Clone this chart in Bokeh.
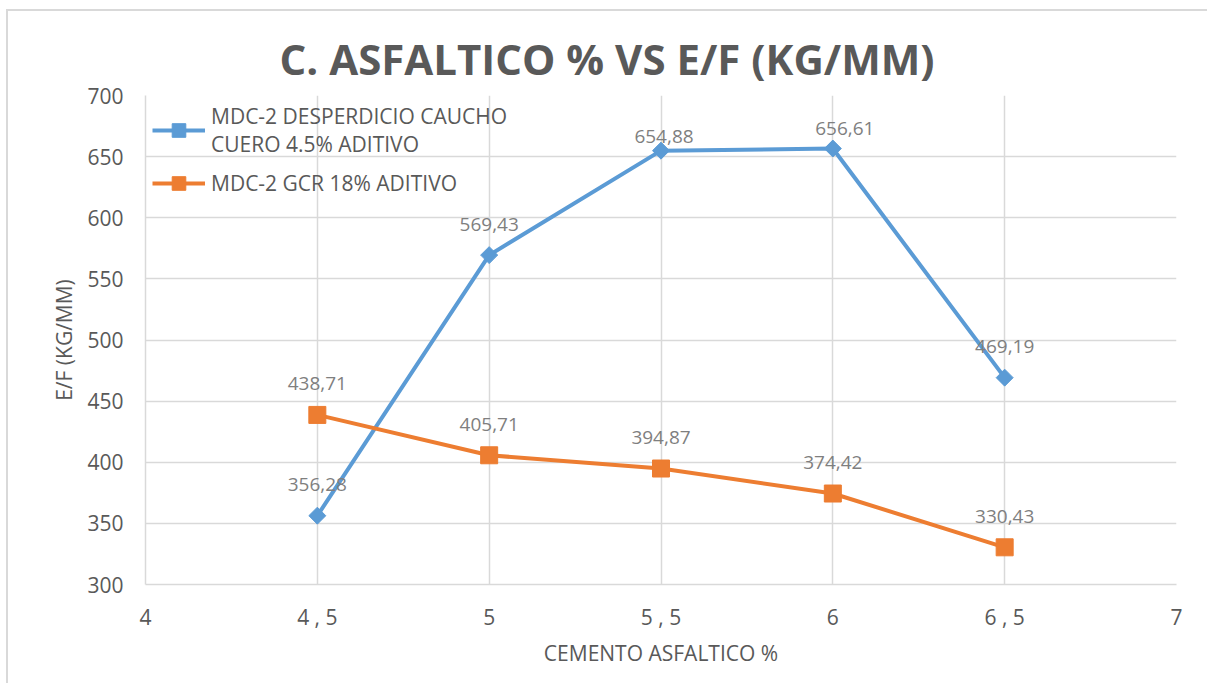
from bokeh.plotting import figure
from bokeh.models import (ColumnDataSource, Legend, LegendItem, FixedTicker,
                          Range1d)
from bokeh.embed import file_html
from bokeh.resources import INLINE

# Asphalt cement content (%) and stability/flow ratio (kg/mm)
cemento = [4.5, 5.0, 5.5, 6.0, 6.5]
caucho_cuero = [356.28, 569.43, 654.88, 656.61, 469.19]
gcr_18 = [438.71, 405.71, 394.87, 374.42, 330.43]

serie_1 = "MDC-2 DESPERDICIO CAUCHO\nCUERO 4.5% ADITIVO"
serie_2 = "MDC-2 GCR 18% ADITIVO"

x_ticks = [4, 4.5, 5, 5.5, 6, 6.5, 7]
x_tick_labels = ["4", "4 , 5", "5", "5 , 5", "6", "6 , 5", "7"]
y_ticks = [300, 350, 400, 450, 500, 550, 600, 650, 700]

# label nudges (pixels) so the value labels sit clear of the lines
dx_1 = [0, 0, 3, 12, 0]
dy_1 = [-31, -31, -14, -20, -31]
dx_2 = [0, 0, 0, 0, 0]
dy_2 = [-31, -31, -31, -31, -31]

BLUE = "#5B9BD5"
ORANGE = "#ED7D31"
GRID = "#D9D9D9"
TEXT = "#595959"
LABEL = "#7F7F7F"
FONT = "Open Sans"


def fmt(v):
    return f"{v:.2f}".replace(".", ",")


src_1 = ColumnDataSource(dict(x=cemento, y=caucho_cuero,
                              t=[fmt(v) for v in caucho_cuero], dx=dx_1, dy=dy_1))
src_2 = ColumnDataSource(dict(x=cemento, y=gcr_18,
                              t=[fmt(v) for v in gcr_18], dx=dx_2, dy=dy_2))

# chart-area border (top and left edges) painted behind a transparent canvas
area_border = (
    f"linear-gradient({GRID}, {GRID}) 6px 9px / 2px 100% no-repeat, "
    f"linear-gradient({GRID}, {GRID}) 6px 9px / 100% 2px no-repeat, white"
)

p = figure(width=1207, height=683, output_backend="svg", toolbar_location=None,
           x_range=Range1d(4, 7), y_range=Range1d(300, 700),
           min_border_left=145, min_border_right=31,
           min_border_top=95, min_border_bottom=99,
           background_fill_color="white", border_fill_alpha=0,
           styles={"background": area_border})
p.outline_line_color = None

p.title.text = "C. ASFALTICO % VS E/F (KG/MM)"
p.title.align = "left"
p.title.text_font = FONT
p.title.text_font_style = "bold"
p.title.text_font_size = "42px"
p.title.text_color = TEXT
p.title.offset = 134
p.title.standoff = 18

# axes
p.xaxis.ticker = FixedTicker(ticks=x_ticks)
p.xaxis.major_label_overrides = {t: l for t, l in zip(x_ticks, x_tick_labels)}
p.yaxis.ticker = FixedTicker(ticks=y_ticks)
p.xaxis.axis_label = "CEMENTO ASFALTICO %"
p.yaxis.axis_label = "E/F (KG/MM)"
for ax in (p.xaxis, p.yaxis):
    ax.axis_line_color = GRID
    ax.axis_line_width = 1.5
    ax.major_tick_line_color = None
    ax.minor_tick_line_color = None
    ax.major_label_text_font = FONT
    ax.major_label_text_font_size = "21px"
    ax.major_label_text_color = TEXT
    ax.axis_label_text_font = FONT
    ax.axis_label_text_font_size = "21px"
    ax.axis_label_text_font_style = "normal"
    ax.axis_label_text_color = TEXT
p.xaxis.major_label_standoff = 12
p.yaxis.major_label_standoff = 16
p.xaxis.axis_label_standoff = 5
p.yaxis.axis_label_standoff = 6

p.xgrid.ticker = FixedTicker(ticks=x_ticks)
p.ygrid.ticker = FixedTicker(ticks=y_ticks)
for g in (p.xgrid, p.ygrid):
    g.grid_line_color = GRID
    g.grid_line_width = 1.5

# series
l1 = p.line("x", "y", source=src_1, line_color=BLUE, line_width=4)
m1 = p.scatter("x", "y", source=src_1, marker="square", size=12, angle=0.785398,
               fill_color=BLUE, line_color=BLUE)
l2 = p.line("x", "y", source=src_2, line_color=ORANGE, line_width=4)
m2 = p.scatter("x", "y", source=src_2, marker="square", size=17,
               fill_color=ORANGE, line_color=ORANGE)

for src in (src_1, src_2):
    p.text("x", "y", text="t", source=src, x_offset="dx", y_offset="dy",
           text_align="center", text_baseline="middle",
           text_font_size="19px", text_color=LABEL,
           text_font={"value": FONT})

legend = Legend(items=[LegendItem(label=serie_1, renderers=[l1, m1]),
                       LegendItem(label=serie_2, renderers=[l2, m2])],
                location="top_left", margin=0, padding=7, spacing=8,
                glyph_width=53, glyph_height=34, label_standoff=6,
                label_text_font=FONT, label_text_font_size="21px",
                label_text_color=TEXT, label_text_line_height=1.4,
                background_fill_alpha=0, border_line_alpha=0)
p.add_layout(legend)

open("out.html", "w").write(file_html(p, INLINE))
